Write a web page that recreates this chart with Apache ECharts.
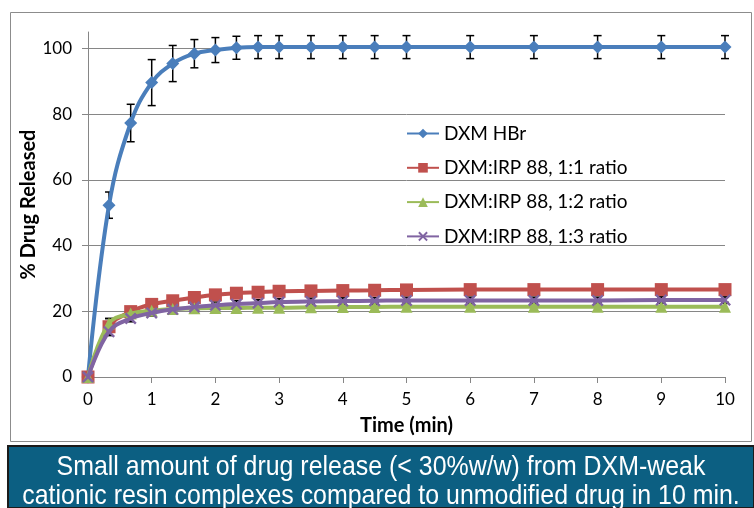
<!DOCTYPE html>
<html>
<head>
<meta charset="utf-8">
<script src="https://cdn.jsdelivr.net/npm/echarts@6/dist/echarts.min.js"></script>
<style>
html,body{margin:0;padding:0;background:#fff;}
#c{width:754px;height:508px;}
</style>
</head>
<body>
<div id="c"></div>
<script>
const times = [0, 0.33, 0.67, 1, 1.33, 1.67, 2, 2.33, 2.67, 3, 3.5, 4, 4.5, 5, 6, 7, 8, 9, 10];
const seriesNames = ['DXM HBr', 'DXM:IRP 88, 1:1 ratio', 'DXM:IRP 88, 1:2 ratio', 'DXM:IRP 88, 1:3 ratio'];
const hbr   = [0, 52.3, 77.3, 89.6, 95.4, 98.4, 99.5, 100.2, 100.4, 100.4, 100.4, 100.4, 100.4, 100.4, 100.4, 100.4, 100.4, 100.4, 100.4];
const hbrErr = [0, 4, 5.7, 7, 5.5, 4.3, 3.8, 3.5, 3.5, 3.5, 3.5, 3.5, 3.5, 3.5, 3.5, 3.5, 3.5, 3.5, 3.5];
const r11   = [0, 15.3, 19.9, 22.1, 23.2, 24.2, 25.0, 25.5, 25.8, 26.1, 26.2, 26.3, 26.4, 26.5, 26.6, 26.6, 26.6, 26.6, 26.6];
const r11Err = [0, 2.5, 1.2, 1.2, 1.2, 1.2, 1.2, 1.2, 1.2, 1.2, 1.2, 1.2, 1.2, 1.2, 1.2, 1.2, 1.2, 1.2, 1.2];
const r12   = [0, 16.3, 19.3, 20.2, 20.7, 20.9, 21.0, 21.0, 21.1, 21.1, 21.2, 21.3, 21.3, 21.4, 21.4, 21.4, 21.4, 21.4, 21.4];
const r12Err = [0, 1.5, 1.2, 1.2, 1.2, 1.3, 1.3, 1.3, 1.3, 1.3, 1.3, 1.3, 1.3, 1.3, 1.3, 1.3, 1.3, 1.3, 1.3];
const r13   = [0, 13.8, 17.8, 19.5, 20.6, 21.3, 21.8, 22.2, 22.5, 22.8, 23.0, 23.1, 23.2, 23.3, 23.3, 23.3, 23.3, 23.4, 23.4];
const r13Err = [0, 1.2, 1.0, 1.0, 1.0, 1.0, 1.0, 1.0, 1.0, 1.0, 1.0, 1.0, 1.0, 1.0, 1.0, 1.0, 1.0, 1.0, 1.0];
const yTicks = [0, 20, 40, 60, 80, 100];
const captionLines = ['Small amount of drug release (< 30%w/w) from DXM-weak', 'cationic resin complexes compared to unmodified drug in 10 min.'];

const colors = ['#4A7EBB', '#C0504D', '#9BBB59', '#8064A2'];
const allVals = [hbr, r11, r12, r13];
const allErr = [hbrErr, r11Err, r12Err, r13Err];
const symbols = ['diamond', 'rect', 'triangle',
  'path://M0,1.4 L1.4,0 L5,3.6 L8.6,0 L10,1.4 L6.4,5 L10,8.6 L8.6,10 L5,6.4 L1.4,10 L0,8.6 L3.6,5 Z'];
const symSizes = [13, 13, 12, 12];

const font = 'Lato, Calibri, "Noto Sans", sans-serif';
const capFont = '28px "Liberation Sans", Arial, sans-serif';

function errSeries(i) {
  return {
    type: 'custom',
    name: seriesNames[i] + ' err',
    z: 1,
    silent: true,
    data: times.map((t, k) => [t, allVals[i][k] - allErr[i][k], allVals[i][k] + allErr[i][k]]),
    renderItem: function (params, api) {
      const lo = api.coord([api.value(0), api.value(1)]);
      const hi = api.coord([api.value(0), api.value(2)]);
      const w = 4;
      const st = {stroke: '#000', lineWidth: 1.5};
      return {
        type: 'group',
        children: [
          {type: 'line', shape: {x1: lo[0], y1: lo[1], x2: hi[0], y2: hi[1]}, style: st},
          {type: 'line', shape: {x1: lo[0] - w, y1: lo[1], x2: lo[0] + w, y2: lo[1]}, style: st},
          {type: 'line', shape: {x1: hi[0] - w, y1: hi[1], x2: hi[0] + w, y2: hi[1]}, style: st}
        ]
      };
    }
  };
}

function lineSeries(i) {
  return {
    type: 'line',
    name: seriesNames[i],
    z: 3 + i,
    smooth: 0.4,
    data: times.map((t, k) => [t, allVals[i][k]]),
    symbol: symbols[i],
    symbolSize: symSizes[i],
    showAllSymbol: true,
    lineStyle: {color: colors[i], width: 4},
    itemStyle: {color: colors[i], borderWidth: 0},
    emphasis: {disabled: true}
  };
}

const chart = echarts.init(document.getElementById('c'), null, {renderer: 'canvas'});
chart.setOption({
  animation: false,
  backgroundColor: '#fff',
  grid: {left: 88, right: 29, top: 32, bottom: 131, containLabel: false, outerBoundsMode: 'none'},
  legend: {
    orient: 'vertical',
    left: 406,
    top: 124,
    padding: 0,
    itemWidth: 32,
    itemHeight: 12,
    itemGap: 15.3,
    data: seriesNames,
    textStyle: {fontFamily: font, fontSize: 19, color: '#000'}
  },
  xAxis: {
    type: 'value',
    min: 0, max: 10, interval: 1,
    name: 'Time (min)',
    nameLocation: 'middle',
    nameGap: 39,
    nameTextStyle: {fontFamily: font, fontSize: 20, fontWeight: 'bold', color: '#000'},
    axisLine: {lineStyle: {color: '#868686', width: 1}},
    axisTick: {show: true, inside: false, length: 6, lineStyle: {color: '#868686'}},
    axisLabel: {fontFamily: font, fontSize: 17, color: '#000', margin: 14},
    splitLine: {show: false}
  },
  yAxis: {
    type: 'value',
    min: 0, max: 105, interval: 20,
    name: '% Drug Released',
    nameLocation: 'middle',
    nameGap: 49,
    nameMoveOverlap: false,
    nameTextStyle: {fontFamily: font, fontSize: 20, fontWeight: 'bold', color: '#000'},
    axisLine: {show: true, lineStyle: {color: '#868686', width: 1}},
    axisTick: {show: true, length: 6, lineStyle: {color: '#868686'}, customValues: yTicks},
    axisLabel: {fontFamily: font, fontSize: 17, color: '#000', margin: 16, customValues: yTicks},
    splitLine: {show: true, lineStyle: {color: '#868686', width: 1}}
  },
  graphic: [
    {type: 'rect', z: -10, shape: {x: 10.5, y: 12.5, width: 741, height: 429}, style: {fill: 'none', stroke: '#8c8c8c', lineWidth: 1}},
    {type: 'rect', z: 10, shape: {x: 8, y: 446, width: 746, height: 62}, style: {fill: '#0C5F82', stroke: '#1b1b1b', lineWidth: 2}},
    {type: 'text', z: 11, x: 381, y: 467, scaleX: 0.89, style: {text: captionLines[0], x: 0, y: 0, align: 'center', verticalAlign: 'middle',
      fill: '#fff', font: capFont}},
    {type: 'text', z: 11, x: 381, y: 496, scaleX: 0.89, style: {text: captionLines[1], x: 0, y: 0, align: 'center', verticalAlign: 'middle',
      fill: '#fff', font: capFont}}
  ],
  series: [errSeries(0), errSeries(1), errSeries(2), errSeries(3),
           lineSeries(0), lineSeries(1), lineSeries(2), lineSeries(3)]
});
</script>
</body>
</html>
